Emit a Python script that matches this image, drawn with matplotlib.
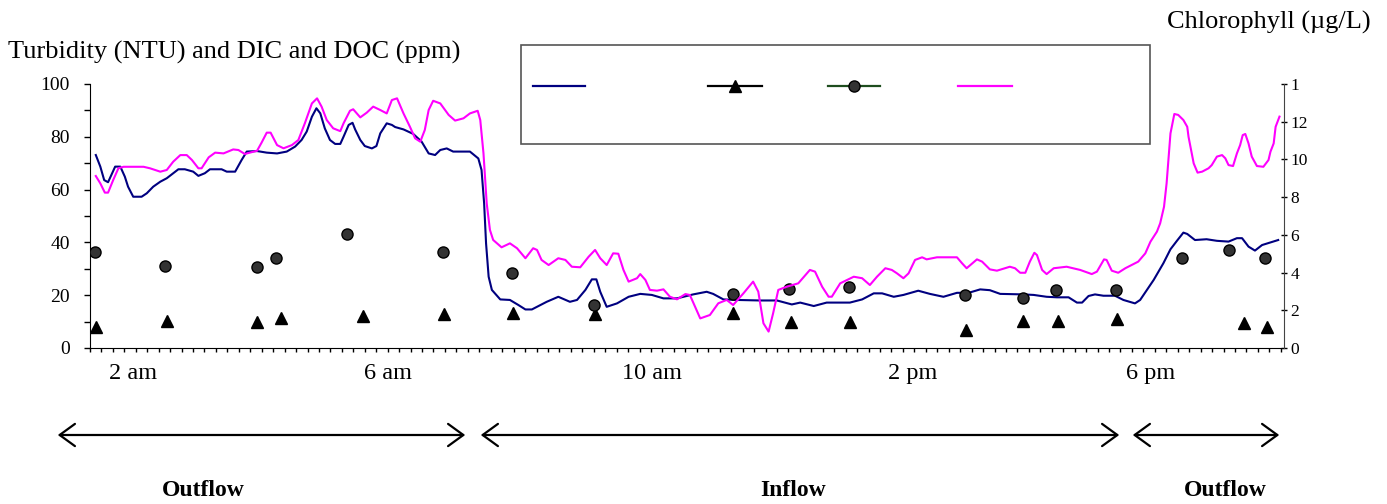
import numpy as np
import matplotlib.pyplot as plt
from matplotlib.lines import Line2D
from matplotlib.patches import Rectangle, FancyArrowPatch

plt.rcParams['font.family'] = ['Liberation Serif', 'DejaVu Serif']

W, H = 1387, 504  # figure size in pixels

# time in decimal hours
turb_t = [1.43, 1.50, 1.56, 1.62, 1.73, 1.81, 1.88, 1.93, 2.01, 2.14, 2.22, 2.32, 2.43, 2.53,
          2.71, 2.81, 2.94, 3.02, 3.12, 3.20, 3.38, 3.46, 3.59, 3.69, 3.77, 3.93, 4.08, 4.24,
          4.39, 4.52, 4.62, 4.70, 4.78, 4.85, 4.91, 4.98, 5.06, 5.14, 5.22, 5.27, 5.35, 5.41,
          5.45, 5.53, 5.60, 5.71, 5.78, 5.84, 5.94, 6.02, 6.07, 6.20, 6.35, 6.48, 6.59, 6.69,
          6.77, 6.87, 6.97, 7.23, 7.36, 7.41, 7.45, 7.48, 7.52, 7.57, 7.70, 7.85, 7.98, 8.09,
          8.19, 8.42, 8.60, 8.78, 8.89, 9.02, 9.12, 9.19, 9.25, 9.35, 9.51, 9.69, 9.87, 10.05,
          10.23, 10.44, 10.69, 10.90, 11.00, 11.16, 11.37, 11.73, 11.99, 12.22, 12.35, 12.56,
          12.76, 13.12, 13.31, 13.49, 13.62, 13.80, 13.95, 14.18, 14.36, 14.57, 14.78, 14.96,
          15.14, 15.29, 15.45, 15.81, 15.97, 16.17, 16.33, 16.51, 16.64, 16.72, 16.82, 16.92,
          17.05, 17.23, 17.36, 17.54, 17.62, 17.83, 17.98, 18.09, 18.19, 18.29, 18.35, 18.47,
          18.65, 18.81, 18.99, 19.12, 19.20, 19.30, 19.40, 19.51, 19.76]
turb = [73.1, 68.7, 63.6, 62.8, 68.7, 68.7, 64.9, 61.1, 57.3, 57.3, 58.6, 61.1, 63.0, 64.3,
        67.7, 67.7, 66.8, 65.2, 66.2, 67.7, 67.7, 66.8, 66.8, 71.2, 74.4, 74.6, 74.0, 73.7,
        74.4, 76.3, 78.8, 82.0, 87.6, 90.8, 88.9, 83.2, 78.8, 77.3, 77.3, 80.0, 84.5, 85.3,
        82.8, 78.8, 76.5, 75.6, 76.5, 81.3, 85.1, 84.5, 83.7, 82.8, 81.1, 78.2, 73.7, 73.1,
        75.0, 75.6, 74.4, 74.4, 71.8, 67.4, 54.8, 39.6, 27.0, 22.0, 18.4, 18.2, 16.3, 14.6,
        14.6, 17.5, 19.4, 17.5, 18.2, 22.0, 26.0, 26.0, 21.3, 15.6, 16.9, 19.4, 20.5, 20.1,
        18.8, 18.8, 20.3, 21.3, 20.5, 18.4, 18.2, 18.0, 18.0, 16.5, 17.2, 15.9,
        17.2, 17.2, 18.4, 20.7, 20.7, 19.4, 20.1, 21.7, 20.5, 19.4, 20.9, 20.9,
        22.2, 21.9, 20.5, 20.3, 20.1, 19.4, 19.2, 19.2, 17.2, 17.2, 19.7, 20.3,
        19.8, 19.8, 18.2, 16.9, 18.2, 25.8, 32.1, 37.4, 40.6, 43.7, 43.2, 40.9,
        41.2, 40.6, 40.3, 41.6, 41.6, 38.4, 36.9, 39.0, 40.9]

chl_t = [1.43, 1.50, 1.57, 1.62, 1.70, 1.78, 1.86, 2.17, 2.27, 2.43, 2.53, 2.63, 2.74, 2.84,
         2.92, 3.02, 3.07, 3.18, 3.28, 3.41, 3.56, 3.64, 3.74, 3.93, 4.00, 4.08, 4.14, 4.24,
         4.34, 4.47, 4.57, 4.67, 4.78, 4.86, 4.93, 5.01, 5.11, 5.22, 5.27, 5.37, 5.42, 5.53,
         5.63, 5.73, 5.84, 5.94, 6.02, 6.10, 6.20, 6.30, 6.38, 6.46, 6.53, 6.59, 6.66, 6.77,
         6.90, 7.00, 7.13, 7.23, 7.35, 7.39, 7.44, 7.49, 7.54, 7.59, 7.72, 7.85, 7.96, 8.09,
         8.21, 8.27, 8.34, 8.45, 8.60, 8.71, 8.81, 8.94, 9.07, 9.17, 9.25, 9.35, 9.45, 9.53,
         9.61, 9.69, 9.82, 9.87, 9.95, 10.02, 10.13, 10.23, 10.33, 10.44, 10.57, 10.64, 10.80,
         10.95, 11.08, 11.21, 11.31, 11.47, 11.62, 11.70, 11.78, 11.86, 11.93, 12.01, 12.14,
         12.32, 12.50, 12.58, 12.69, 12.79, 12.84, 12.97, 13.18, 13.31, 13.43, 13.54, 13.67,
         13.77, 13.85, 13.95, 14.03, 14.13, 14.24, 14.31, 14.47, 14.78, 14.86, 14.93, 15.09,
         15.17, 15.29, 15.40, 15.60, 15.68, 15.76, 15.84, 15.91, 15.98, 16.02, 16.10, 16.17,
         16.28, 16.48, 16.69, 16.87, 16.95, 17.06, 17.10, 17.18, 17.28, 17.39, 17.59, 17.70,
         17.78, 17.88, 17.93, 17.99, 18.03, 18.09, 18.15, 18.21, 18.29, 18.35, 18.37, 18.42,
         18.45, 18.51, 18.58, 18.68, 18.73, 18.81, 18.89, 18.94, 18.99, 19.06, 19.12, 19.17,
         19.21, 19.25, 19.30, 19.35, 19.43, 19.53, 19.61, 19.64, 19.69, 19.72, 19.78]
chl = [9.12, 8.73, 8.24, 8.24, 8.91, 9.53, 9.61, 9.61, 9.53, 9.35, 9.44, 9.88, 10.23, 10.23,
       9.97, 9.53, 9.53, 10.11, 10.36, 10.32, 10.53, 10.50, 10.29, 10.46, 10.89, 11.42, 11.42, 10.76,
       10.59, 10.76, 11.03, 11.91, 12.97, 13.24, 12.80, 12.09, 11.65, 11.50, 11.91, 12.58, 12.66, 12.23,
       12.48, 12.80, 12.62, 12.44, 13.15, 13.24, 12.44, 11.73, 11.12, 10.94, 11.56, 12.62, 13.11, 12.97,
       12.36, 12.06, 12.18, 12.44, 12.58, 12.09, 10.32, 7.67, 6.26, 5.73, 5.34, 5.55, 5.29, 4.76,
       5.29, 5.20, 4.67, 4.40, 4.76, 4.67, 4.31, 4.28, 4.84, 5.20, 4.76, 4.40, 5.02, 5.00,
       4.14, 3.52, 3.70, 3.92, 3.61, 3.08, 3.04, 3.11, 2.72, 2.58, 2.86, 2.81, 1.57,
       1.75, 2.37, 2.55, 2.28, 2.90, 3.52, 2.99, 1.31, 0.87, 1.84, 3.08, 3.25,
       3.43, 4.14, 4.05, 3.25, 2.72, 2.72, 3.43, 3.78, 3.70, 3.34, 3.78, 4.23,
       4.14, 3.96, 3.70, 3.96, 4.67, 4.81, 4.70, 4.81, 4.81, 4.49, 4.23, 4.70,
       4.58, 4.17, 4.10, 4.31, 4.23, 3.99, 3.99, 4.58, 5.05, 4.93, 4.14, 3.92,
       4.23, 4.31, 4.14, 3.92, 4.05, 4.70, 4.67, 4.10, 3.99, 4.23, 4.58, 5.02,
       5.64, 6.17, 6.61, 7.49, 8.73, 11.38, 12.41, 12.36, 12.09, 11.73, 11.20, 10.32,
       9.79, 9.30, 9.35, 9.53, 9.70, 10.15, 10.23, 10.06, 9.70, 9.65, 10.32, 10.76,
       11.29, 11.35, 10.85, 10.15, 9.65, 9.61, 9.97, 10.41, 10.85, 11.73, 12.27]

dic_t = [1.43, 2.53, 3.93, 4.30, 5.57, 6.83, 7.89, 9.17, 11.31, 12.20, 13.12, 14.92, 15.81,
         16.34, 17.26, 19.23, 19.58]
dic = [8.1, 10.3, 9.7, 11.2, 12.2, 12.8, 13.4, 12.8, 13.4, 9.7, 9.7, 6.8, 10.3, 10.3, 11.0,
       9.6, 8.1]

doc_t = [1.42, 2.51, 3.93, 4.22, 5.33, 6.82, 7.88, 9.16, 11.31, 12.18, 13.10, 14.91, 15.80,
         16.32, 17.24, 18.27, 19.00, 19.56]
doc = [36.5, 31.1, 30.6, 34.0, 43.2, 36.5, 28.3, 16.3, 20.3, 22.5, 23.1, 20.2, 19.1, 22.0,
       22.0, 34.0, 37.1, 34.0]

tick_hours = [2.0, 5.96, 10.05, 14.09, 17.78]
tick_names = ['2 am', '6 am', '10 am', '2 pm', '6 pm']
chl_ticks = [0, 2, 4, 6, 8, 10, 12, 14]
chl_tick_names = ['0', '2', '4', '6', '8', '10', '12', '1']

flow_names = ['Outflow', 'Inflow', 'Outflow']

NAVY = '#000080'
PINK = '#FF00FF'


def px(x, y):
  # pixel position (from top-left) -> figure fraction
  return x / W, 1 - y / H


fig = plt.figure(figsize=(W / 100, H / 100), dpi=100)
ax = fig.add_axes([90 / W, 156 / H, 1194 / W, 264 / H])
ax2 = ax.twinx()

ax.plot(turb_t, turb, color=NAVY, lw=1.5, zorder=3)
ax.plot(dic_t, dic, ls='none', marker='^', ms=9, color='black', zorder=4)
ax.plot(doc_t, doc, ls='none', marker='o', ms=8, mfc='#333333', mec='black', zorder=4)
ax2.plot(chl_t, chl, color=PINK, lw=1.5)

ax.set_xlim(1.34, 19.85)
ax.set_ylim(0, 100)
ax2.set_ylim(0, 14)

ax.set_yticks(np.arange(0, 101, 20))
ax.set_yticks(np.arange(10, 100, 20), minor=True)
ax.tick_params(axis='y', which='both', direction='out', length=4.5, width=1, labelsize=14, pad=10)
ax.set_xticks(tick_hours)
ax.set_xticklabels(tick_names)
ax.set_xticks(np.arange(1.34, 19.86, 0.1775), minor=True)
ax.tick_params(axis='x', which='major', length=0, labelsize=17.5, pad=11)
ax.tick_params(axis='x', which='minor', direction='out', length=3, width=1)

ax2.set_yticks(chl_ticks)
ax2.set_yticklabels(chl_tick_names)
ax2.tick_params(axis='y', direction='inout', length=5, width=1, labelsize=12.5, pad=2)

for a in (ax, ax2):
  a.spines['top'].set_visible(False)
ax.spines['right'].set_visible(False)
ax2.spines['left'].set_visible(False)
ax2.spines['bottom'].set_visible(False)
ax2.spines['right'].set_color('#444444')

# axis titles
fig.text(*px(8, 52), 'Turbidity (NTU) and DIC and DOC (ppm)', fontsize=19, ha='left', va='center')
fig.text(*px(1371, 22), 'Chlorophyll (µg/L)', fontsize=19, ha='right', va='center')

# legend box without labels
x0, y0 = px(521, 144)
fig.add_artist(Rectangle((x0, y0), 629 / W, 99 / H, transform=fig.transFigure,
                         facecolor='white', edgecolor='#555555', lw=1.2, zorder=10))
for (xa, xb), style in [((533, 585), dict(color=NAVY)),
                        ((708, 762), dict(color='black', marker='^', ms=9, markevery=[1])),
                        ((828, 880), dict(color='#1e4d1e', marker='o', ms=8, mfc='#333333',
                                          mec='black', markevery=[1])),
                        ((958, 1012), dict(color=PINK))]:
  xs = [xa / W, (xa + xb) / 2 / W, xb / W]
  ys = [1 - 86 / H] * 3
  fig.add_artist(Line2D(xs, ys, transform=fig.transFigure, lw=1.6, zorder=11, **style))

# flow direction arrows and their labels
for (xa, xb), xl, name in zip([(55, 468), (478, 1122), (1130, 1282)], [203, 793, 1225],
                              flow_names):
  arr = FancyArrowPatch(px(xa, 435), px(xb, 435), transform=fig.transFigure,
                        arrowstyle='<->,head_length=0.55,head_width=0.4',
                        mutation_scale=20, lw=1.6, color='black')
  fig.add_artist(arr)
  fig.text(*px(xl, 490), name, fontsize=17, fontweight='bold', ha='center', va='center')

fig.savefig('out.png', dpi=100)
